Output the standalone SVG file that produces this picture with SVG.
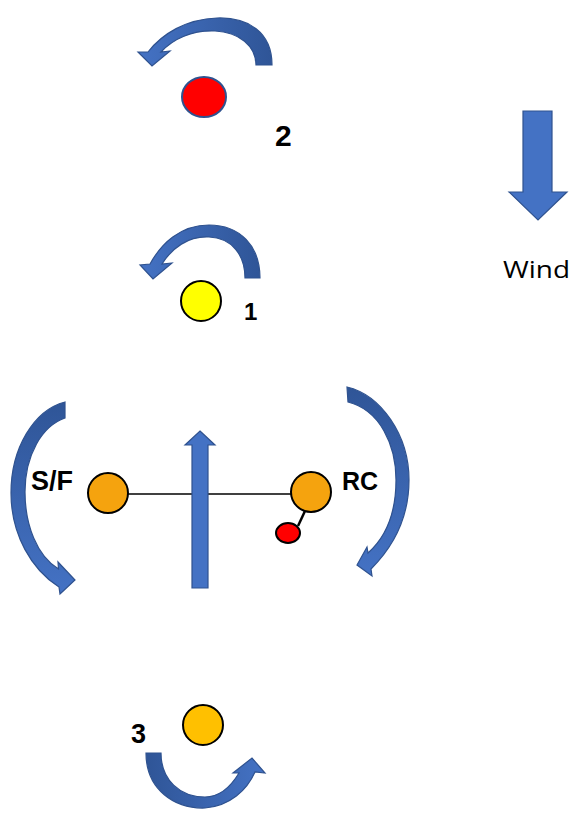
<svg xmlns="http://www.w3.org/2000/svg" width="572" height="813" viewBox="0 0 572 813">
<defs>
<linearGradient id="gRL" x1="1" y1="0" x2="0" y2="0"><stop offset="0" stop-color="#2F5597"/><stop offset="1" stop-color="#4472C4"/></linearGradient>
<linearGradient id="gTB" x1="0" y1="0" x2="0" y2="1"><stop offset="0" stop-color="#2F5597"/><stop offset="1" stop-color="#4472C4"/></linearGradient>
<linearGradient id="gLR" x1="0" y1="0" x2="1" y2="0"><stop offset="0" stop-color="#2F5597"/><stop offset="1" stop-color="#4472C4"/></linearGradient>
</defs>
<style>
.arr{fill:#4472C4;stroke:#2F528F;stroke-width:1.2;stroke-linejoin:miter}
.lbl{font-family:"Liberation Sans",Arial,sans-serif;font-weight:bold;fill:#000}
</style>
<rect width="572" height="813" fill="#fff"/>
<g id="connectors">
<line x1="128" y1="494" x2="291" y2="494" stroke="#000" stroke-width="1.5"/>
<line x1="305" y1="511" x2="298" y2="526" stroke="#000" stroke-width="2.5"/>
</g>
<g id="rot2">
<path class="arr" style="fill:url(#gRL)" d="M272,65 C272,32 248,17 217,18 C186,19 162,34 148,52 L138,52 L152,66 L170,51 L161,52 C173,39 192,30 215,31 C239,32 256,46 256,65 Z"/>
</g>
<g id="node2">
<ellipse cx="204" cy="97" rx="22" ry="20" fill="#FF0000" stroke="#2F528F" stroke-width="2"/>
<text class="lbl" x="275" y="146" font-size="30">2</text>
</g>
<g id="rot1">
<path class="arr" style="fill:url(#gRL)" d="M260,278 C260,246 240,225 209,225 C180,225 161,244 150,264 L140,265 L153,279 L172,263 L162,264 C172,248 188,236 209,237 C232,238 245,255 245,278 Z"/>
</g>
<g id="node1">
<circle cx="201" cy="301" r="20" fill="#FFFF00" stroke="#000" stroke-width="2"/>
<text class="lbl" x="244" y="320" font-size="24">1</text>
</g>
<g id="wind">
<path class="arr" d="M523,111 L552,111 L552,192 L567,192 L538,220 L509,192 L523,192 Z"/>
<text x="503" y="278" font-family="'Open Sans','Liberation Sans',Arial,sans-serif" font-size="24" textLength="67" lengthAdjust="spacingAndGlyphs" fill="#000">Wind</text>
</g>
<g id="rotSF">
<path class="arr" style="fill:url(#gTB)" d="M65,402 C34,410 11,448 11,493 C11,535 32,570 59,587 L60,594 L75,580 L58,562 L58.5,569 C37,556 25,525 25,492 C25,455 42,426 65,418 Z"/>
</g>
<g id="rotRC">
<path class="arr" style="fill:url(#gTB)" d="M347,387 C381,395 409,435 409,480 C409,515 395,545 371,569 L372,576 L357,565 L367,547 L368,553 C386,537 396,512 396,480 C396,445 380,410 348,402 Z"/>
</g>
<g id="nodeSF">
<circle cx="108" cy="493" r="20" fill="#F5A30E" stroke="#000" stroke-width="2"/>
<text class="lbl" x="31" y="490" font-size="27">S/F</text>
</g>
<g id="nodeRC">
<circle cx="311" cy="492" r="20" fill="#F5A30E" stroke="#000" stroke-width="2"/>
<ellipse cx="288" cy="533" rx="12" ry="10" fill="#FF0000" stroke="#000" stroke-width="2"/>
<text class="lbl" x="342" y="490" font-size="25">RC</text>
</g>
<g id="vertArrow">
<path class="arr" d="M200,431 L215,445 L208,445 L208,588 L192,588 L192,445 L185,445 Z"/>
</g>
<g id="node3">
<circle cx="203" cy="725" r="20" fill="#FFC000" stroke="#000" stroke-width="2"/>
<text class="lbl" x="131" y="743" font-size="27">3</text>
</g>
<g id="rot3">
<path class="arr" style="fill:url(#gLR)" d="M146,753 C146,790 175,809 205,808 C230,806 247,790 255,772 L265,773 L252,758 L233,773 L239,773 C230,788 218,797 205,797 C180,797 161,780 161,753 Z"/>
</g>
</svg>
